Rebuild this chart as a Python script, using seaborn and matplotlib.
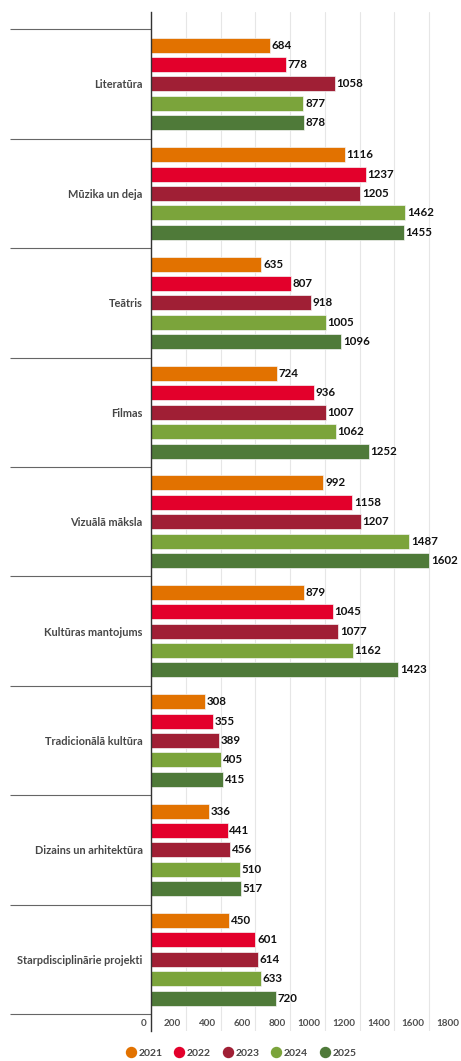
import matplotlib
matplotlib.use("Agg")
import matplotlib.pyplot as plt
import matplotlib.transforms as mtransforms
from matplotlib.lines import Line2D
import seaborn as sns
import pandas as pd

categories = ["Literatūra", "Mūzika un deja", "Teātris", "Filmas", "Vizuālā māksla",
              "Kultūras mantojums", "Tradicionālā kultūra", "Dizains un arhitektūra",
              "Starpdisciplinārie projekti"]
years = ["2021", "2022", "2023", "2024", "2025"]
v2021 = [684, 1116, 635, 724, 992, 879, 308, 336, 450]
v2022 = [778, 1237, 807, 936, 1158, 1045, 355, 441, 601]
v2023 = [1058, 1205, 918, 1007, 1207, 1077, 389, 456, 614]
v2024 = [877, 1462, 1005, 1062, 1487, 1162, 405, 510, 633]
v2025 = [878, 1455, 1096, 1252, 1602, 1423, 415, 517, 720]
xticks = [0, 200, 400, 600, 800, 1000, 1200, 1400, 1600, 1800]
colors = ["#E27200", "#E3002B", "#A01F35", "#7BA43B", "#4F7A39"]

series = [v2021, v2022, v2023, v2024, v2025]
rows = []
for y, vals in zip(years, series):
    for c, v in zip(categories, vals):
        rows.append({"category": c, "year": y, "value": v})
df = pd.DataFrame(rows)

sns.set_style("white")
plt.rcParams["font.family"] = ["Lato", "DejaVu Sans"]

W, H = 461, 1061
fig = plt.figure(figsize=(W / 100, H / 100), dpi=100)
ax_left, ax_right = 151, 463.8
ax_top, ax_bot = 12, 1031
ax = fig.add_axes([ax_left / W, (H - ax_bot) / H, (ax_right - ax_left) / W, (ax_bot - ax_top) / H])

sns.barplot(data=df, y="category", x="value", hue="year", orient="h",
            palette=colors, width=0.887, gap=0.227, ax=ax, legend=False,
            saturation=1, errorbar=None, linewidth=0.5, edgecolor="#f4f4f4")

for cont in ax.containers:
    ax.bar_label(cont, fmt="%d", padding=1.2, fontsize=8.3, fontweight="bold", color="#111111")

ax.set_xlim(0, 1800)
ax.set_ylim(8.655, -0.658)
ax.set_xlabel("")
ax.set_ylabel("")

# x axis
ax.set_xticks(xticks)
ax.set_xticklabels([str(t) for t in xticks])
ax.tick_params(axis="x", bottom=False, length=0, pad=-8.5, labelsize=7.1, labelcolor="#505050")
offset = mtransforms.ScaledTranslation(-4.5 / 100, 0, fig.dpi_scale_trans)
for lab in ax.get_xticklabels():
    lab.set_horizontalalignment("right")
    lab.set_fontweight("bold")
    lab.set_transform(lab.get_transform() + offset)
ax.grid(axis="x", color="#e6e6e6", linewidth=0.8)
ax.set_axisbelow(True)

# y axis: separators as major ticks, labels as minor
bounds = [i - 0.5 for i in range(len(categories) + 1)]
ax.set_yticks(bounds)
ax.set_yticklabels([""] * len(bounds))
ax.set_yticks(list(range(len(categories))), labels=categories, minor=True)
ax.tick_params(axis="y", which="major", left=True, length=101.5, width=0.8, color="#666666")
ax.tick_params(axis="y", which="minor", left=True, length=0, pad=6, labelsize=7.9, labelcolor="#474747")
for lab in ax.get_yticklabels(minor=True):
    lab.set_fontweight("bold")

for s in ["top", "right", "bottom"]:
    ax.spines[s].set_visible(False)
ax.spines["left"].set_color("#333333")
ax.spines["left"].set_linewidth(1.0)

handles = [Line2D([0], [0], marker="o", linestyle="", markersize=7.2,
                  markerfacecolor=c, markeredgecolor=c) for c in colors]
leg = fig.legend(handles, years, loc="center", bbox_to_anchor=(241 / W, 8 / H),
                 ncol=5, frameon=False, handletextpad=0.25, columnspacing=1.1,
                 handlelength=1.0, prop={"size": 7.5, "weight": "bold"})
for t in leg.get_texts():
    t.set_color("#474747")

fig.savefig("out.png", dpi=100)
